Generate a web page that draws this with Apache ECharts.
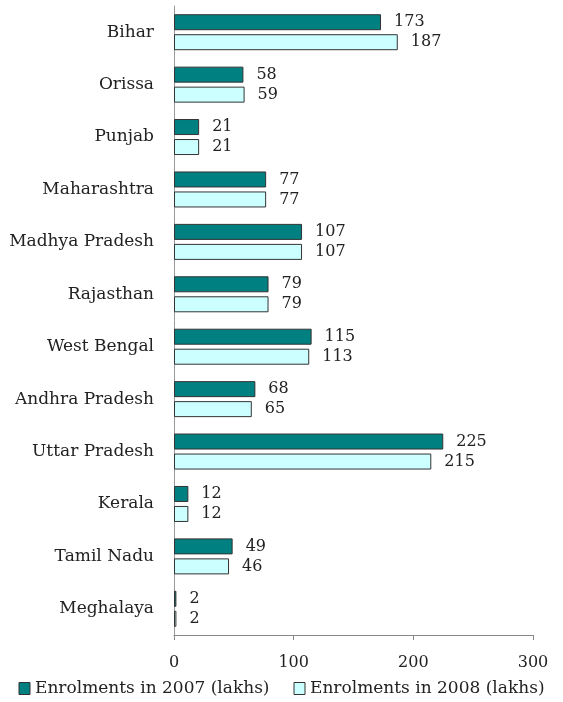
<!DOCTYPE html>
<html>
<head>
<meta charset="utf-8">
<script src="https://cdn.jsdelivr.net/npm/echarts@6/dist/echarts.min.js"></script>
<style>
  html, body { margin: 0; padding: 0; background: #fff; }
  #chart { width: 563px; height: 702px; }
</style>
</head>
<body>
<div id="chart"></div>
<script>
var states = ['Bihar', 'Orissa', 'Punjab', 'Maharashtra', 'Madhya Pradesh', 'Rajasthan',
    'West Bengal', 'Andhra Pradesh', 'Uttar Pradesh', 'Kerala', 'Tamil Nadu', 'Meghalaya'];
var enrol2007 = [173, 58, 21, 77, 107, 79, 115, 68, 225, 12, 49, 2];
var enrol2008 = [187, 59, 21, 77, 107, 79, 113, 65, 215, 12, 46, 2];
var seriesNames = ['Enrolments in 2007 (lakhs)', 'Enrolments in 2008 (lakhs)'];

var font = 'DejaVu Serif';
var chart = echarts.init(document.getElementById('chart'));

function barSeries(name, data, color) {
    return {
        name: name,
        type: 'bar',
        data: data,
        barWidth: 16,
        barGap: '25%',
        itemStyle: { color: color, borderColor: '#333', borderWidth: 1 },
        label: {
            show: true,
            position: 'right',
            distance: 13,
            fontFamily: font,
            fontSize: 16,
            color: '#222'
        }
    };
}

var option = {
    animation: false,
    textStyle: { fontFamily: font },
    legend: {
        bottom: 0,
        left: 'center',
        icon: 'rect',
        itemWidth: 11,
        itemHeight: 12,
        itemGap: 24,
        itemStyle: { borderColor: '#333', borderWidth: 1 },
        textStyle: { fontFamily: font, fontSize: 17, color: '#222' },
        data: seriesNames
    },
    grid: { left: 174, right: 30, top: 6, bottom: 67 },
    xAxis: {
        type: 'value',
        min: 0,
        max: 300,
        interval: 100,
        splitLine: { show: false },
        axisLine: { show: true, lineStyle: { color: '#888' } },
        axisTick: { show: true, length: 5, lineStyle: { color: '#888' } },
        axisLabel: { margin: 20, fontFamily: font, fontSize: 16, color: '#222' }
    },
    yAxis: {
        type: 'category',
        inverse: true,
        data: states,
        axisLine: { show: true, lineStyle: { color: '#999' } },
        axisTick: { show: false },
        axisLabel: { margin: 20, fontFamily: font, fontSize: 17, color: '#222' }
    },
    series: [
        barSeries(seriesNames[0], enrol2007, '#008080'),
        barSeries(seriesNames[1], enrol2008, '#ccffff')
    ]
};
chart.setOption(option);
</script>
</body>
</html>
